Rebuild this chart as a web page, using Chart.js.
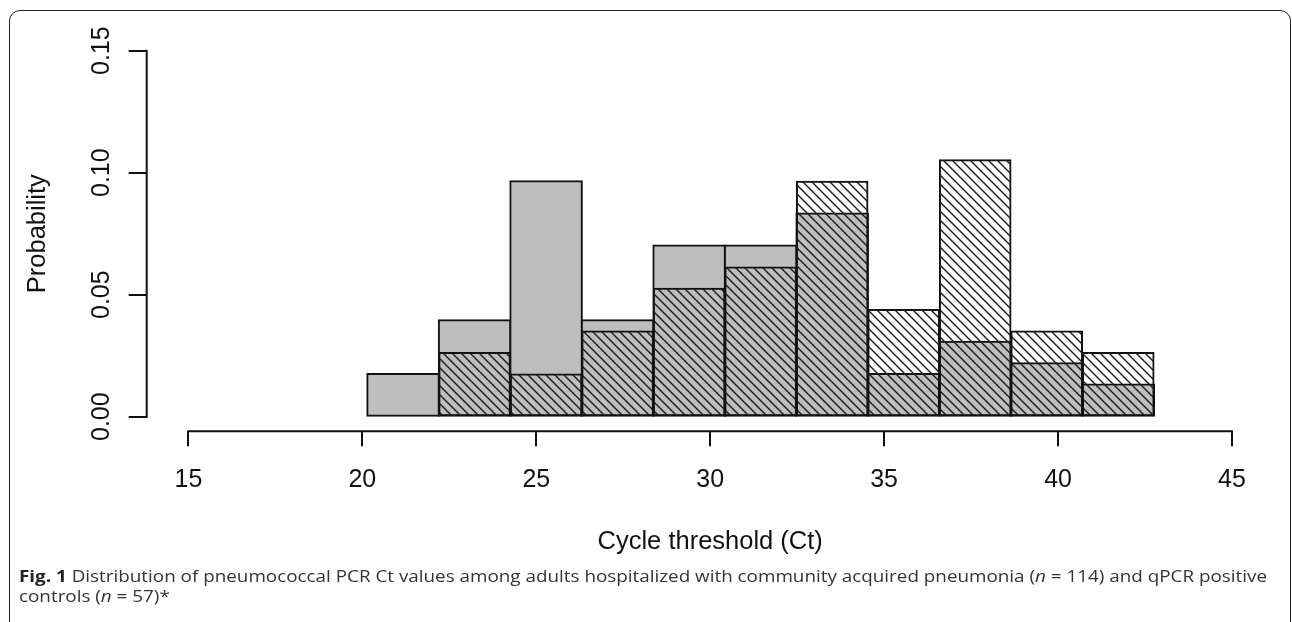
<!DOCTYPE html>
<html>
<head>
<meta charset="utf-8">
<script src="https://cdn.jsdelivr.net/npm/chart.js@4.4.1/dist/chart.umd.min.js"></script>
<style>
html,body{margin:0;padding:0;background:#fff;}
#wrap{position:relative;width:1292px;height:622px;overflow:hidden;background:#fff;}
#frame{position:absolute;left:8.5px;top:10px;width:1282px;height:720px;border:1.5px solid #222;border-radius:11px;box-sizing:border-box;}
#c{position:absolute;left:0;top:0;width:1292px;height:622px;}
.cap{position:absolute;left:19px;font-family:"Open Sans",sans-serif;font-size:16px;line-height:20px;color:#333;white-space:nowrap;transform-origin:0 0;}
.cap b{color:#222;font-weight:700;}
</style>
</head>
<body>
<div id="wrap">
  <div id="frame"></div>
  <canvas id="c" width="1292" height="622"></canvas>
  <div class="cap" id="cap1" style="top:565.5px"><b>Fig. 1</b> Distribution of pneumococcal PCR Ct values among adults hospitalized with community acquired pneumonia (<i>n</i> = 114) and qPCR positive</div>
  <div class="cap" id="cap2" style="top:586px">controls (<i>n</i> = 57)*</div>
</div>
<script>
// ---- data ----
const binMids = [21, 23, 25, 27, 29, 31, 33, 35, 37, 39, 41];          // Ct bins of width 2 (20–42)
const casesProb = [0.0175, 0.0395, 0.0965, 0.0395, 0.0702, 0.0702, 0.0833, 0.0175, 0.0307, 0.0219, 0.0132]; // grey bars
const controlsProb = [null, 0.0263, 0.0175, 0.0351, 0.0526, 0.0614, 0.0965, 0.0439, 0.1053, 0.0351, 0.0263]; // hatched bars
const xTickValues = [15, 20, 25, 30, 35, 40, 45];
const yTickValues = [0, 0.05, 0.10, 0.15];
const xTitle = 'Cycle threshold (Ct)';
const yTitle = 'Probability';

// caption width fit
(function(){
  const target = 1248;
  const c1 = document.getElementById('cap1');
  const w = c1.getBoundingClientRect().width;
  const s = target / w;
  c1.style.transform = 'scaleX(' + s + ')';
  document.getElementById('cap2').style.transform = 'scaleX(' + s + ')';
})();

const canvas = document.getElementById('c');
const ctx = canvas.getContext('2d');

function makeHatch(){
  const s = 9;
  const t = document.createElement('canvas');
  t.width = s; t.height = s;
  const g = t.getContext('2d');
  g.strokeStyle = '#1a1a1a';
  g.lineWidth = 1.4;
  g.beginPath();
  g.moveTo(-2, -2); g.lineTo(s + 2, s + 2);
  g.moveTo(-2, s - 2); g.lineTo(2, s + 2);
  g.moveTo(s - 2, -2); g.lineTo(s + 2, 2);
  g.stroke();
  return ctx.createPattern(t, 'repeat');
}
const hatch = makeHatch();

const FONT = 'Liberation Sans, Arial, sans-serif';
const INK = '#111';

const rAxes = {
  id: 'rAxes',
  afterDraw(chart){
    const {ctx, chartArea, scales} = chart;
    const x = scales.x, y = scales.y;
    ctx.save();
    ctx.strokeStyle = INK;
    ctx.lineWidth = 2;
    ctx.lineCap = 'square';
    ctx.beginPath();
    const yb = chartArea.bottom;
    ctx.moveTo(x.getPixelForValue(xTickValues[0]), yb);
    ctx.lineTo(x.getPixelForValue(xTickValues[xTickValues.length - 1]), yb);
    const xl = chartArea.left;
    ctx.moveTo(xl, y.getPixelForValue(yTickValues[0]));
    ctx.lineTo(xl, y.getPixelForValue(yTickValues[yTickValues.length - 1]));
    ctx.stroke();
    ctx.restore();
  }
};

new Chart(ctx, {
  type: 'bar',
  data: {
    datasets: [
      {
        label: 'qPCR positive controls',
        data: binMids.map((m, i) => ({x: m, y: controlsProb[i]})),
        xAxisID: 'xb',
        backgroundColor: hatch,
        borderColor: INK,
        borderWidth: 1,
        inflateAmount: 0.5,
        borderSkipped: false,
        grouped: false,
        barPercentage: 1,
        categoryPercentage: 1,
        order: 0
      },
      {
        label: 'Community acquired pneumonia',
        data: binMids.map((m, i) => ({x: m, y: casesProb[i]})),
        xAxisID: 'xb',
        backgroundColor: '#bebebe',
        borderColor: INK,
        borderWidth: 2,
        inflateAmount: 1,
        borderSkipped: false,
        grouped: false,
        barPercentage: 1,
        categoryPercentage: 1,
        order: 1
      }
    ]
  },
  options: {
    responsive: false,
    animation: false,
    events: [],
    layout: {padding: {left: 22.7, right: 18.3, top: 36.06, bottom: 65}},
    plugins: {legend: {display: false}, tooltip: {enabled: false}},
    scales: {
      x: {
        type: 'linear',
        position: 'bottom',
        offset: false,
        min: 13.8, max: 46.2,
        afterBuildTicks: s => { s.ticks = xTickValues.map(v => ({value: v})); },
        afterFit: s => { s.height = 125.66; s.paddingLeft = 0; s.paddingRight = 0; },
        grid: {offset: false, drawOnChartArea: false, drawTicks: true, tickLength: 15, lineWidth: 2, color: INK},
        border: {display: false},
        ticks: {font: {family: FONT, size: 25}, color: INK, padding: 18.5, maxRotation: 0, autoSkip: false,
                callback: v => String(v)},
        title: {display: true, text: xTitle, font: {family: FONT, size: 25.5}, color: INK, padding: 0}
      },
      xb: {
        type: 'linear',
        display: false,
        offset: false,
        grid: {offset: false},
        min: 13.831, max: 45.347
      },
      y: {
        type: 'linear',
        min: -0.006, max: 0.156,
        afterBuildTicks: s => { s.ticks = yTickValues.map(v => ({value: v})); },
        afterFit: s => { s.width = 124; s.paddingTop = 0; s.paddingBottom = 0; },
        grid: {drawOnChartArea: false, drawTicks: true, tickLength: 18, lineWidth: 2, color: INK},
        border: {display: false},
        ticks: {font: {family: FONT, size: 25}, color: INK, padding: 2.7, minRotation: 90, maxRotation: 90,
                crossAlign: 'center', autoSkip: false, callback: v => Number(v).toFixed(2)},
        title: {display: true, text: yTitle, font: {family: FONT, size: 25.5}, color: INK, padding: 0}
      }
    }
  },
  plugins: [rAxes]
});
</script>
</body>
</html>
